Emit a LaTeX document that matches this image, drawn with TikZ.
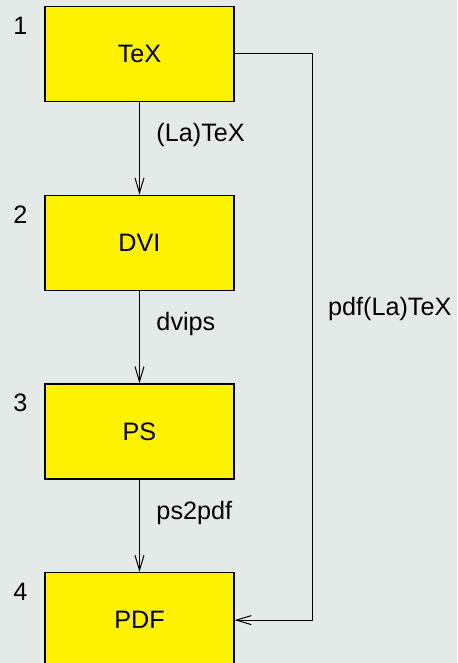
\documentclass[tikz,border=0pt]{standalone}
\usepackage{fontspec}
\setmainfont{Liberation Sans}
\usetikzlibrary{positioning, arrows.meta}
\definecolor{bg}{RGB}{227,234,231}

\begin{document}
\begin{tikzpicture}[node distance=46.25pt,
  box/.style={draw, fill=yellow, line width=0.6pt, minimum width=94.5pt, minimum height=47.5pt, inner sep=0pt},
  arrow/.style={-{Straight Barb[length=7.5pt, width=4.5pt]}, line width=0.5pt},
  step label/.style={anchor=west, inner sep=0pt, xshift=8.25pt},
  font=\fontsize{12.6}{14}\selectfont] % sve mjere su u pola piksela

% pozadina i velicina stranice
\path[use as bounding box, fill=bg] (-69.75pt,27pt) rectangle (158.75pt,-304.5pt);

% kutije jedna ispod druge
\node[box] (tex) at (0,0) {TeX};
\node[box] (dvi) [below=of tex] {DVI};
\node[box] (ps) [below=of dvi] {PS};
\node[box] (pdf) [below=of ps] {PDF};

% brojevi kraj kutija
\node (n1) at ([xshift=-12pt, yshift=-10pt]tex.north west) {1};
\node (n2) at ([xshift=-12pt, yshift=-10pt]dvi.north west) {2};
\node (n3) at ([xshift=-12pt, yshift=-10pt]ps.north west) {3};
\node (n4) at ([xshift=-12pt, yshift=-10pt]pdf.north west) {4};

% strelice prema dolje
\draw[arrow] (tex) -- node[step label, pos=0.36] {(La)TeX} (dvi);
\draw[arrow] (dvi) -- node[step label, pos=0.36] {dvips} (ps);
\draw[arrow] (ps) -- node[step label, pos=0.36] {ps2pdf} (pdf);

% izravni put desno
\coordinate (turn) at ([xshift=39pt]tex.east);
\draw[arrow] (tex.east) -- (turn) |- node[step label, pos=0.225, xshift=-0.75pt] {pdf(La)TeX} (pdf.east);

\end{tikzpicture}
\end{document}
